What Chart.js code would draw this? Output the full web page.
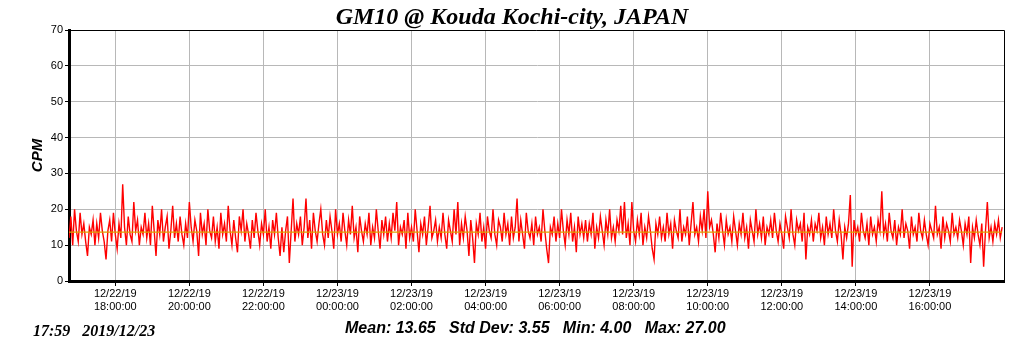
<!DOCTYPE html>
<html>
<head>
<meta charset="utf-8">
<script src="https://cdn.jsdelivr.net/npm/chart.js@4/dist/chart.umd.min.js"></script>
<style>
  html, body { margin: 0; padding: 0; background: #fff; }
  #wrap { width: 1024px; height: 351px; position: relative; }
</style>
</head>
<body>
<div id="wrap"><canvas id="myChart"></canvas></div>
<script>
// hours counted from 12/22/19 00:00
const startHour = 16.75;
const stepMinutes = 3;

// CPM readings, one every 3 minutes
const cpm = [
  12,18,10,20,14,11,19,13,16,11,7,15,13,17,10,16,12,19,14,11,
  6,14,17,11,19,13,9,16,12,27,15,10,18,13,11,22,14,17,10,15,
  13,19,12,16,10,21,14,7,17,13,20,11,15,18,9,14,21,12,16,11,
  18,13,10,16,12,22,15,11,17,14,7,19,13,16,10,20,14,12,18,11,
  15,9,19,13,16,11,21,14,10,17,12,8,18,14,20,11,16,13,9,17,
  12,19,14,10,16,13,20,11,15,9,17,13,19,12,7,15,8,14,18,5,
  14,23,11,16,13,18,10,15,23,12,17,9,19,14,11,16,20,13,10,17,
  12,18,14,9,20,13,16,11,19,14,10,17,13,21,12,15,8,18,14,11,
  16,13,19,10,15,12,20,14,9,17,13,18,11,16,12,19,14,22,10,15,
  13,17,9,19,12,15,11,20,14,8,16,13,18,10,15,21,12,14,17,11,
  15,12,19,13,9,17,14,11,20,13,22,10,16,12,18,14,7,17,12,5,
  16,13,19,11,15,9,18,14,12,20,13,10,17,15,11,19,13,16,10,18,
  12,15,23,11,17,13,9,19,14,12,16,10,18,13,15,11,20,14,9,5,
  15,13,18,11,16,12,20,14,10,17,13,19,11,15,8,18,13,16,12,17,
  11,16,13,19,9,15,12,18,14,10,17,13,20,12,15,11,17,14,21,13,
  22,12,16,10,22,14,11,17,13,19,10,15,12,18,14,9,6,16,13,18,
  12,15,11,19,13,16,9,17,14,12,20,11,15,13,18,10,16,22,13,15,
  11,18,14,20,12,25,15,17,13,8,16,12,19,14,10,17,13,15,11,18,
  14,10,16,13,19,12,15,9,17,14,11,20,13,16,12,18,10,15,13,17,
  12,19,14,11,16,13,9,18,15,12,20,13,10,17,14,16,11,19,6,15,
  13,17,11,16,14,19,12,15,10,18,13,16,12,20,14,11,17,13,6,15,
  12,16,24,4,17,13,15,11,19,14,12,16,10,18,13,15,11,17,14,25,
  13,16,11,19,14,12,17,10,15,13,20,12,16,14,9,18,13,15,11,19,
  14,12,17,13,10,16,14,12,21,13,15,9,18,12,16,14,11,19,13,15,
  12,17,14,10,16,13,18,5,15,12,17,13,10,16,4,14,22,12,15,11,
  16,13,17,12,15
];

const meanCpm = 13.65;
const stats = { mean: '13.65', std: '3.55', min: '4.00', max: '27.00' };

const xTickHours = [18, 20, 22, 24, 26, 28, 30, 32, 34, 36, 38, 40];
const xTickDates = ['12/22/19','12/22/19','12/22/19','12/23/19','12/23/19','12/23/19',
                    '12/23/19','12/23/19','12/23/19','12/23/19','12/23/19','12/23/19'];
const xTickTimes = ['18:00:00','20:00:00','22:00:00','00:00:00','02:00:00','04:00:00',
                    '06:00:00','08:00:00','10:00:00','12:00:00','14:00:00','16:00:00'];

const chartTitle = 'GM10 @ Kouda Kochi-city, JAPAN';
const stampText = '17:59   2019/12/23';

const cpmPoints = cpm.map((v, i) => ({ x: startHour + i * stepMinutes / 60, y: v }));
const lastHour = cpmPoints[cpmPoints.length - 1].x;
const meanPoints = [{ x: startHour, y: meanCpm }, { x: lastHour, y: meanCpm }];

// title, thin frame on top/right, footer texts
const framePlugin = {
  id: 'frameAndFooter',
  afterDraw(chart) {
    const { ctx, chartArea } = chart;
    ctx.save();
    ctx.strokeStyle = '#000';
    ctx.lineWidth = 1;
    ctx.beginPath();
    ctx.moveTo(chartArea.left, chartArea.top + 0.5);
    ctx.lineTo(chartArea.right + 0.5, chartArea.top + 0.5);
    ctx.lineTo(chartArea.right + 0.5, chartArea.bottom);
    ctx.stroke();

    ctx.fillStyle = '#000';
    ctx.textBaseline = 'alphabetic';

    ctx.textAlign = 'center';
    ctx.font = 'italic bold 24px "Liberation Serif", serif';
    ctx.fillText(chartTitle, 512, 24);

    ctx.textAlign = 'left';
    ctx.font = 'italic bold 16px "Liberation Serif", serif';
    ctx.fillText(stampText, 33, 336);

    ctx.font = 'italic bold 16px "Liberation Sans", Arial, sans-serif';
    const s = 'Mean: ' + stats.mean + '   Std Dev: ' + stats.std +
              '   Min: ' + stats.min + '   Max: ' + stats.max;
    ctx.fillText(s, 345, 333);
    ctx.restore();
  }
};

new Chart('myChart', {
  type: 'line',
  data: {
    datasets: [
      {
        data: cpmPoints,
        borderColor: '#ff0000',
        borderWidth: 1.4,
        pointRadius: 0,
        tension: 0,
        order: 1
      },
      {
        data: meanPoints,
        borderColor: '#e0a000',
        borderWidth: 1.2,
        pointRadius: 0,
        order: 0
      }
    ]
  },
  options: {
    responsive: true,
    maintainAspectRatio: false,
    animation: false,
    layout: { padding: { top: 30, right: 20, left: 0, bottom: 0 } },
    plugins: {
      legend: { display: false },
      tooltip: { enabled: false },
      title: { display: false }
    },
    scales: {
      x: {
        type: 'linear',
        min: startHour,
        max: 42,
        afterFit: (s) => { s.height = 70; },
        afterBuildTicks: (s) => { s.ticks = xTickHours.map(v => ({ value: v })); },
        grid: { color: '#b8b8b8', tickColor: '#000', tickLength: 5 },
        border: { color: '#000', width: 3 },
        ticks: {
          color: '#000',
          padding: 1,
          maxRotation: 0,
          autoSkip: false,
          font: { family: '"Liberation Sans", Arial, sans-serif', size: 11 },
          callback: (v) => {
            const k = xTickHours.indexOf(v);
            return k < 0 ? '' : [xTickDates[k], xTickTimes[k]];
          }
        }
      },
      y: {
        min: 0,
        max: 70,
        afterFit: (s) => { s.width = 69; },
        grid: { color: '#b8b8b8', tickColor: '#000', tickLength: 4 },
        border: { color: '#000', width: 3 },
        title: {
          display: true,
          text: 'CPM',
          color: '#000',
          font: { family: '"Liberation Sans", Arial, sans-serif', size: 15, style: 'italic', weight: 'bold' },
          padding: { top: 29, bottom: 0 }
        },
        ticks: {
          stepSize: 10,
          color: '#000',
          padding: 2,
          font: { family: '"Liberation Sans", Arial, sans-serif', size: 11 }
        }
      }
    }
  },
  plugins: [framePlugin]
});
</script>
</body>
</html>
